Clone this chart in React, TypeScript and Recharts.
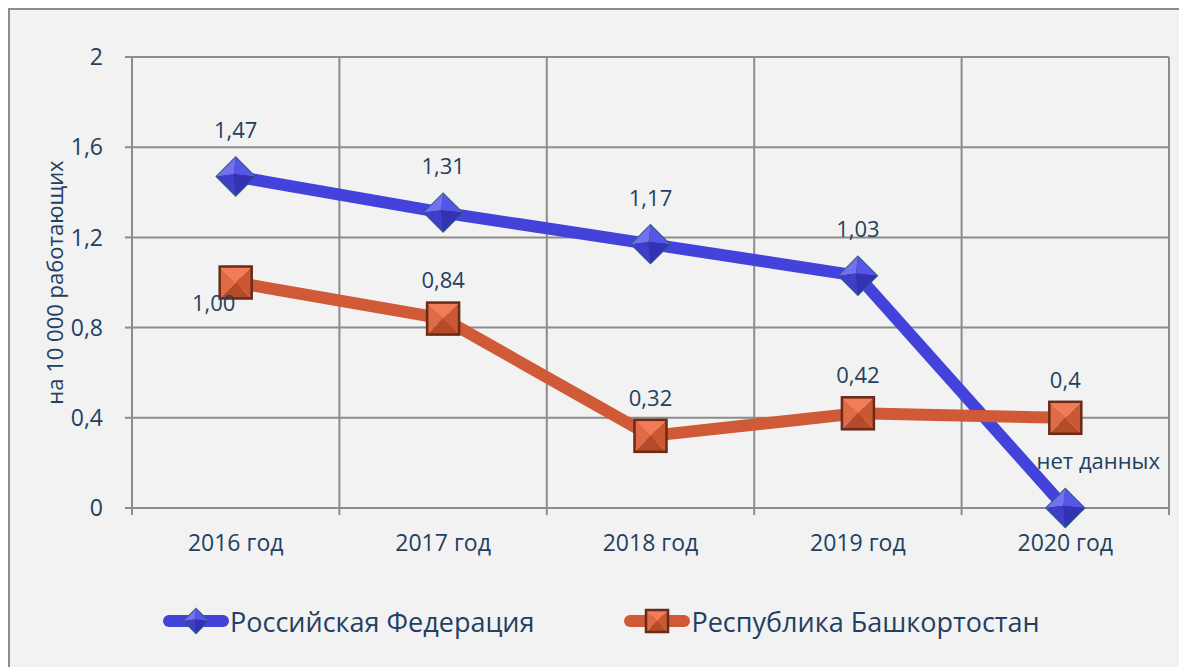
import {
  ComposedChart,
  Line,
  XAxis,
  YAxis,
  CartesianGrid,
  Legend,
  LabelList,
} from "recharts";

const years = ["2016 год", "2017 год", "2018 год", "2019 год", "2020 год"];
const rfValues = [1.47, 1.31, 1.17, 1.03, 0];
const rbValues = [1.0, 0.84, 0.32, 0.42, 0.4];
const rfLabels = ["1,47", "1,31", "1,17", "1,03", "нет данных"];
const rbLabels = ["1,00", "0,84", "0,32", "0,42", "0,4"];
const yTicks = [0, 0.4, 0.8, 1.2, 1.6, 2];

const RF_NAME = "Российская Федерация";
const RB_NAME = "Республика Башкортостан";
const Y_TITLE = "на 10 000 работающих";

const data = years.map((year, i) => ({
  year,
  rf: rfValues[i],
  rb: rbValues[i],
}));

const CHART_W = 1169;
const CHART_H = 657;
const MARGIN = { top: 47, right: 10, left: 0, bottom: 16 };
const Y_W = 122;
const BAND = (CHART_W - MARGIN.left - MARGIN.right - Y_W) / years.length;

const FONT = "'Open Sans', sans-serif";
const TEXT = "#243f60";
const GRID = "#8c8c8c";
const BLUE = "#4343dc";
const ORANGE = "#d05a38";

function Diamond({ cx, cy, r }: { cx: number; cy: number; r: number }) {
  const t = [cx, cy - r];
  const rt = [cx + r, cy];
  const b = [cx, cy + r];
  const l = [cx - r, cy];
  const c = [cx - r * 0.1, cy - r * 0.12];
  const p = (...pts: number[][]) => pts.map((q) => q.join(",")).join(" ");
  return (
    <g>
      <polygon points={p(t, rt, b, l)} fill="#2a2a8a" stroke="#2e5f7a" strokeWidth={2} />
      <polygon points={p(l, t, c)} fill="#7272f0" />
      <polygon points={p(t, rt, c)} fill="#5656e6" />
      <polygon points={p(rt, b, c)} fill="#3232b4" />
      <polygon points={p(b, l, c)} fill="#3e3ec8" />
    </g>
  );
}

function Square({ cx, cy, s }: { cx: number; cy: number; s: number }) {
  const tl = [cx - s, cy - s];
  const tr = [cx + s, cy - s];
  const br = [cx + s, cy + s];
  const bl = [cx - s, cy + s];
  const c = [cx, cy];
  const p = (...pts: number[][]) => pts.map((q) => q.join(",")).join(" ");
  return (
    <g>
      <polygon points={p(tl, tr, c)} fill="#f07c58" />
      <polygon points={p(tl, bl, c)} fill="#e06a45" />
      <polygon points={p(tr, br, c)} fill="#cc5832" />
      <polygon points={p(bl, br, c)} fill="#b44a27" />
      <rect x={cx - s} y={cy - s} width={2 * s} height={2 * s} fill="none" stroke="#6a2a18" strokeWidth={2.5} />
    </g>
  );
}

const rfDot = (props: any) => (
  <Diamond key={`rf-${props.index}`} cx={props.cx} cy={props.cy} r={19} />
);
const rbDot = (props: any) => (
  <Square key={`rb-${props.index}`} cx={props.cx} cy={props.cy} s={16} />
);

function rfLabel(props: any) {
  const { x, y, index } = props;
  const last = index === rfLabels.length - 1;
  return (
    <text
      x={last ? x + 33 : x}
      y={last ? y - 47 : y - 46}
      textAnchor="middle"
      dy="0.35em"
      fill={TEXT}
      fontSize={22}
      fontFamily={FONT}
    >
      {rfLabels[index]}
    </text>
  );
}

function rbLabel(props: any) {
  const { x, y, index } = props;
  const first = index === 0;
  return (
    <text
      x={first ? x - 22 : x}
      y={first ? y + 21 : y - 38}
      textAnchor="middle"
      dy="0.35em"
      fill={TEXT}
      fontSize={22}
      fontFamily={FONT}
    >
      {rbLabels[index]}
    </text>
  );
}

function XTick(props: any) {
  const { x, y, payload, index } = props;
  const last = index === years.length - 1;
  return (
    <g>
      <line x1={x - BAND / 2} x2={x - BAND / 2} y1={y} y2={y + 7} stroke={GRID} strokeWidth={2} />
      {last && (
        <line x1={x + BAND / 2} x2={x + BAND / 2} y1={y} y2={y + 7} stroke={GRID} strokeWidth={2} />
      )}
      <text x={x} y={y + 35} dy="0.35em" textAnchor="middle" fill={TEXT} fontSize={23} fontFamily={FONT}>
        {payload.value}
      </text>
    </g>
  );
}

function YTitle(props: any) {
  const vb = props.viewBox;
  const x = vb.x + 45;
  const y = vb.y + vb.height / 2;
  return (
    <text
      x={x}
      y={y}
      transform={`rotate(-90, ${x}, ${y})`}
      textAnchor="middle"
      dy="0.35em"
      fill={TEXT}
      fontSize={22}
      fontFamily={FONT}
    >
      {Y_TITLE}
    </text>
  );
}

function LegendIcon({ kind }: { kind: "rf" | "rb" }) {
  const color = kind === "rf" ? BLUE : ORANGE;
  return (
    <svg width={66} height={30} style={{ display: "block" }}>
      <line x1={6} x2={60} y1={15} y2={15} stroke={color} strokeWidth={12} strokeLinecap="round" />
      {kind === "rf" ? <Diamond cx={33} cy={15} r={12} /> : <Square cx={33} cy={15} s={11} />}
    </svg>
  );
}

function renderLegend() {
  const items: Array<{ kind: "rf" | "rb"; name: string }> = [
    { kind: "rf", name: RF_NAME },
    { kind: "rb", name: RB_NAME },
  ];
  return (
    <div style={{ display: "flex", alignItems: "center", height: 60, paddingLeft: 153 }}>
      {items.map((it, i) => (
        <div
          key={it.kind}
          style={{ display: "flex", alignItems: "center", marginRight: i === 0 ? 90 : 0 }}
        >
          <LegendIcon kind={it.kind} />
          <span style={{ fontSize: 27, color: TEXT, fontFamily: FONT, marginLeft: 1 }}>{it.name}</span>
        </div>
      ))}
    </div>
  );
}

export default function App() {
  return (
    <div
      style={{
        position: "fixed",
        top: 8,
        left: 8,
        width: CHART_W,
        height: CHART_H + 2,
        background: "#f2f2f2",
        borderLeft: `2px solid ${GRID}`,
        borderTop: `2px solid ${GRID}`,
        fontFamily: FONT,
        overflow: "hidden",
      }}
    >
      <ComposedChart width={CHART_W} height={CHART_H} data={data} margin={MARGIN}>
        <CartesianGrid
          stroke={GRID}
          strokeWidth={2}
          verticalCoordinatesGenerator={({ offset }: any) =>
            [0, 1, 2, 3, 4, 5].map((i) => offset.left + (i * offset.width) / years.length)
          }
        />
        <XAxis
          dataKey="year"
          scale="band"
          height={83}
          axisLine={{ stroke: GRID, strokeWidth: 2 }}
          tickLine={false}
          tickSize={0}
          tickMargin={0}
          interval={0}
          tick={<XTick />}
        />
        <YAxis
          width={Y_W}
          domain={[0, 2]}
          ticks={yTicks}
          tickFormatter={(v: number) => String(v).replace(".", ",")}
          axisLine={{ stroke: GRID, strokeWidth: 2 }}
          tickLine={{ stroke: GRID, strokeWidth: 2 }}
          tickSize={7}
          tickMargin={22}
          tick={{ fill: TEXT, fontSize: 23, fontFamily: FONT }}
          label={<YTitle />}
        />
        <Legend
          verticalAlign="bottom"
          content={renderLegend}
          wrapperStyle={{ height: 60 }}
        />
        <Line
          dataKey="rf"
          name={RF_NAME}
          stroke={BLUE}
          strokeWidth={12}
          dot={rfDot}
          activeDot={false}
          isAnimationActive={false}
        >
          <LabelList dataKey="rf" content={rfLabel} />
        </Line>
        <Line
          dataKey="rb"
          name={RB_NAME}
          stroke={ORANGE}
          strokeWidth={12}
          dot={rbDot}
          activeDot={false}
          isAnimationActive={false}
        >
          <LabelList dataKey="rb" content={rbLabel} />
        </Line>
      </ComposedChart>
    </div>
  );
}
